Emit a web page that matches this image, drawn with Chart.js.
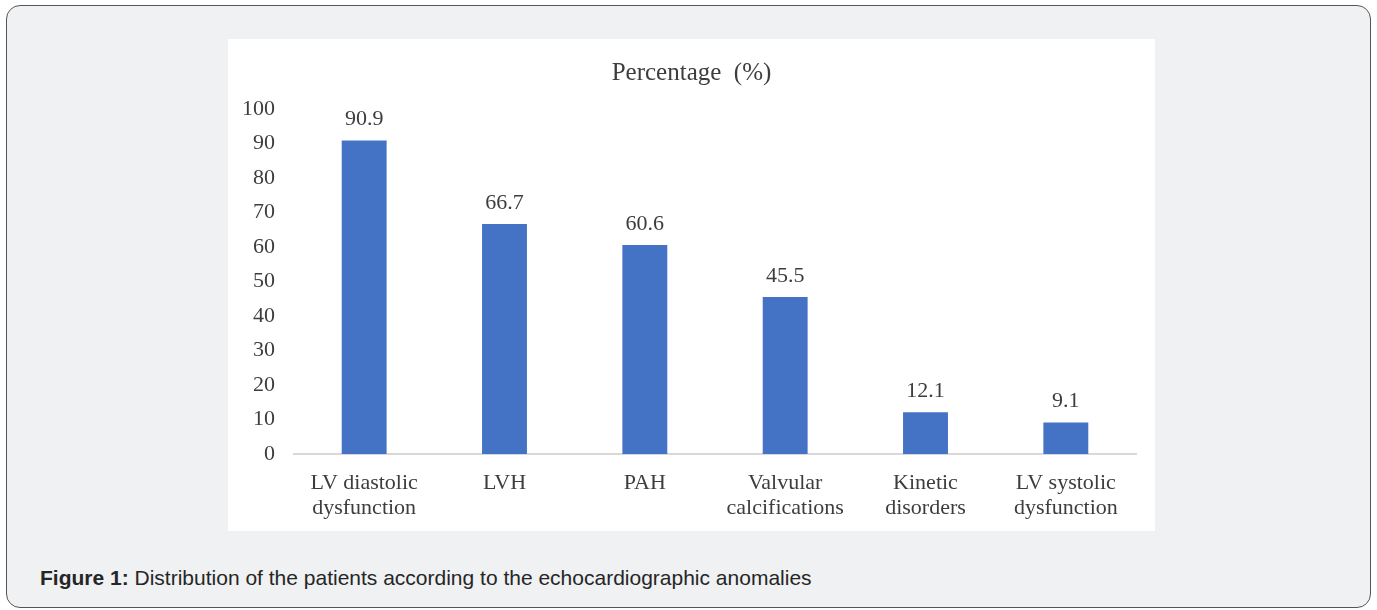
<!DOCTYPE html>
<html>
<head>
<meta charset="utf-8">
<script src="https://cdn.jsdelivr.net/npm/chart.js@4"></script>
<style>
  html, body { margin: 0; padding: 0; background: #ffffff; }
  body { width: 1377px; height: 610px; position: relative; overflow: hidden; }
  .card {
    position: absolute; left: 6px; top: 5px; width: 1363px; height: 601px;
    border: 1px solid #555; border-radius: 14px; background: #f0f1f3;
  }
  .figura {
    position: absolute; left: 221px; top: 33px; width: 927px; height: 492px;
    background: #ffffff;
  }
  .didascalia {
    position: absolute; left: 33px; top: 560px;
    font-family: "Liberation Sans", Arial, sans-serif; font-size: 21px; color: #262626;
  }
</style>
</head>
<body>
<div class="card">
  <div class="figura"><canvas id="grafico" width="927" height="492"></canvas></div>
  <div class="didascalia"><b>Figure 1:</b> Distribution of the patients according to the echocardiographic anomalies</div>
</div>
<script>
// dati
var categorie = [
  ["LV diastolic", "dysfunction"],
  ["LVH"],
  ["PAH"],
  ["Valvular", "calcifications"],
  ["Kinetic", "disorders"],
  ["LV systolic", "dysfunction"]
];
var percentuali = [90.9, 66.7, 60.6, 45.5, 12.1, 9.1];
var titolo = "Percentage  (%)";

var fontSerif = "'Liberation Serif', 'Times New Roman', serif";
var grigio = "#3d3d3d";

// etichette sopra le barre
var etichetteBarre = {
  id: "etichetteBarre",
  afterDatasetsDraw: function(chart){
    let ctx = chart.ctx;
    let meta = chart.getDatasetMeta(0);
    ctx.save();
    ctx.font = "22px " + fontSerif;
    ctx.fillStyle = grigio;
    ctx.textAlign = "center";
    ctx.textBaseline = "middle";
    for(let i = 0; i < meta.data.length; i++){
      let barra = meta.data[i];
      ctx.fillText(percentuali[i].toFixed(1), barra.x, barra.y - 21);
    }
    ctx.restore();
  }
};

window.onload = function(){
  let canvas = document.getElementById("grafico");
  new Chart(canvas, {
    type: "bar",
    data: {
      labels: categorie,
      datasets: [{
        label: titolo,
        data: percentuali,
        backgroundColor: "#4472c4",
        barPercentage: 0.32,
        categoryPercentage: 1
      }]
    },
    options: {
      responsive: false,
      animation: false,
      layout: { padding: 0 },
      plugins: {
        legend: { display: false },
        tooltip: { enabled: false },
        title: {
          display: true,
          text: titolo,
          color: grigio,
          font: { family: fontSerif, size: 25, weight: "normal" },
          padding: { top: 19, bottom: 21 }
        }
      },
      scales: {
        x: {
          grid: { display: false, drawTicks: false },
          border: { display: true, color: "#d9d9d9", width: 2 },
          ticks: {
            color: grigio,
            font: { family: fontSerif, size: 22, lineHeight: 1.14 },
            padding: 17,
            maxRotation: 0,
            autoSkip: false
          },
          afterFit: function(s){ s.height = 77; }
        },
        y: {
          min: 0,
          max: 100,
          grid: { display: false, drawTicks: false },
          border: { display: false },
          ticks: {
            stepSize: 10,
            color: grigio,
            font: { family: fontSerif, size: 22 },
            padding: 19
          },
          afterFit: function(s){ s.width = 66; }
        },
        // margine vuoto a destra, cosi' il titolo resta centrato sull'immagine
        destra: {
          type: "linear",
          position: "right",
          grid: { display: false, drawTicks: false },
          border: { display: false },
          ticks: { display: false },
          afterFit: function(s){ s.width = 19; }
        }
      }
    },
    plugins: [etichetteBarre]
  });
};
</script>
</body>
</html>
